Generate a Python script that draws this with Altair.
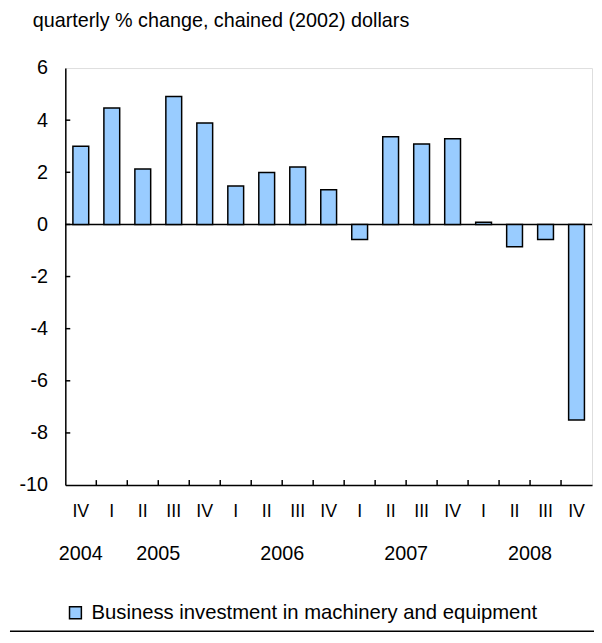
import altair as alt
import pandas as pd

# Data
years = ["2004", "2005", "2005", "2005", "2005", "2006", "2006", "2006", "2006",
         "2007", "2007", "2007", "2007", "2008", "2008", "2008", "2008"]
quarters = ["IV", "I", "II", "III", "IV", "I", "II", "III", "IV",
            "I", "II", "III", "IV", "I", "II", "III", "IV"]
values = [3.0, 4.47, 2.13, 4.91, 3.89, 1.47, 1.99, 2.2, 1.33,
          -0.58, 3.36, 3.09, 3.29, 0.08, -0.86, -0.58, -7.5]
series_name = "Business investment in machinery and equipment"
y_ticks = [-10, -8, -6, -4, -2, 0, 2, 4, 6]
inner_y_ticks = [-8, -6, -4, -2, 0, 2, 4]
year_labels = ["2005", "2006", "2007", "2008"]
first_year = "2004"

FONT = "Liberation Sans"
LW = 1.5

cats = [f"{y} {q}" for y, q in zip(years, quarters)]
df = pd.DataFrame({"cat": cats, "value": values, "series": series_name})

x_scale = alt.Scale(domain=cats, paddingInner=0, paddingOuter=0)
y_scale = alt.Scale(domain=[-10, 6], nice=False, zero=False)

bars = alt.Chart(df).mark_bar(width=16, stroke="black", strokeWidth=LW).encode(
    x=alt.X("cat:N", scale=x_scale, sort=cats,
            axis=alt.Axis(title=None, labelExpr="split(datum.label, ' ')[1]",
                          labelAngle=0, labelFontSize=18, labelFont=FONT,
                          labelColor="black", labelPadding=18, ticks=False,
                          tickSize=0, domainColor="black", domainWidth=LW,
                          grid=False)),
    y=alt.Y("value:Q", scale=y_scale,
            axis=alt.Axis(title=None, values=y_ticks, labelFontSize=20,
                          labelExpr="'' + datum.value",
                          labelFont=FONT, labelColor="black", labelPadding=18,
                          ticks=False, tickSize=0, domainColor="black",
                          domainWidth=LW, grid=False)),
    color=alt.Color("series:N", scale=alt.Scale(range=["#99CCFF"]),
                    legend=alt.Legend(title=None, orient="none", legendX=0,
                                      legendY=541, symbolType="square",
                                      symbolSize=144, symbolStrokeColor="black",
                                      symbolStrokeWidth=LW, symbolFillColor="#99CCFF",
                                      labelFontSize=20.5, labelFont=FONT,
                                      labelColor="black", labelOffset=6,
                                      labelLimit=700, padding=0)),
)

zero_df = pd.DataFrame({"y": [0]})
zero_line = alt.Chart(zero_df).mark_rule(color="black", strokeWidth=LW).encode(
    y=alt.Y("y:Q", scale=y_scale)
)

ytick_df = pd.DataFrame({"y": inner_y_ticks})
yticks = alt.Chart(ytick_df).mark_rule(color="black", strokeWidth=LW).encode(
    y=alt.Y("y:Q", scale=y_scale),
    x=alt.value(0),
    x2=alt.value(5),
)

xtick_df = pd.DataFrame({"cat": cats[1:]})
xticks = alt.Chart(xtick_df).mark_rule(color="black", strokeWidth=LW).encode(
    x=alt.X("cat:N", scale=x_scale, sort=cats, bandPosition=0),
    y=alt.value(422),
    y2=alt.value(417),
)

yr_df = pd.DataFrame({"cat": [f"{y} III" for y in year_labels], "label": year_labels})
yr_text = alt.Chart(yr_df).mark_text(fontSize=20, font=FONT, color="black",
                                     baseline="alphabetic", align="center").encode(
    x=alt.X("cat:N", scale=x_scale, sort=cats, bandPosition=0),
    y=alt.value(498),
    text="label:N",
)

yr0_df = pd.DataFrame({"cat": [f"{first_year} IV"], "label": [first_year]})
yr0_text = alt.Chart(yr0_df).mark_text(fontSize=20, font=FONT, color="black",
                                       baseline="alphabetic", align="center").encode(
    x=alt.X("cat:N", scale=x_scale, sort=cats, bandPosition=0.5),
    y=alt.value(498),
    text="label:N",
)

bottom_rule = alt.Chart(zero_df).mark_rule(color="black", strokeWidth=1.5).encode(
    x=alt.value(-56), x2=alt.value(535), y=alt.value(570)
)

chart = alt.layer(zero_line, bars, yticks, xticks, yr_text, yr0_text, bottom_rule).properties(
    width=533,
    height=422,
    title=alt.TitleParams(
        "quarterly % change, chained (2002) dollars",
        anchor="start", frame="group", dx=-33, offset=12,
        baseline="alphabetic", fontSize=20, font=FONT, fontWeight="normal",
        color="black",
    ),
    autosize=alt.AutoSizeParams(type="none"),
    padding={"left": 58, "top": 57, "right": 2, "bottom": 150},
).configure_view(
    stroke="black", strokeWidth=LW
).configure(background="white")

chart.save("out.html", embed_options={"renderer": "svg", "actions": False})
